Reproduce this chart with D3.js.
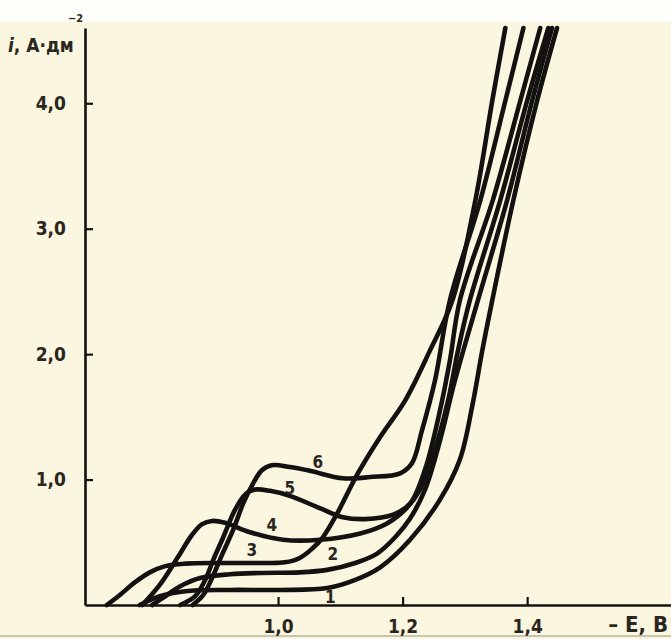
<!DOCTYPE html>
<html>
<head>
<meta charset="utf-8">
<script src="https://cdn.jsdelivr.net/npm/d3@7"></script>
<style>
  body { margin: 0; background: #fbf6df; }
  svg { display: block; }
</style>
</head>
<body>
<div id="chart"></div>
<script>
// polarisation curves: potential -E (V) vs current density i (A/dm2)
var curve1E = [0.778, 0.810, 0.851, 0.923, 1.003, 1.079, 1.124, 1.164, 1.212, 1.260, 1.292, 1.312, 1.328, 1.344, 1.378, 1.416, 1.448];
var curve1I = [0.00, 0.07, 0.11, 0.12, 0.12, 0.135, 0.20, 0.30, 0.52, 0.84, 1.16, 1.59, 2.03, 2.43, 3.23, 4.02, 4.60];

var curve2E = [0.798, 0.819, 0.843, 0.875, 0.923, 0.971, 1.035, 1.079, 1.124, 1.159, 1.188, 1.212, 1.236, 1.260, 1.284, 1.321, 1.368, 1.408, 1.440];
var curve2I = [0.00, 0.07, 0.15, 0.215, 0.245, 0.255, 0.26, 0.28, 0.335, 0.41, 0.54, 0.69, 0.92, 1.31, 1.79, 2.43, 3.23, 4.02, 4.60];

var curve3E = [0.725, 0.746, 0.770, 0.794, 0.819, 0.851, 0.907, 0.971, 1.011, 1.035, 1.055, 1.072, 1.095, 1.127, 1.164, 1.204, 1.244, 1.280, 1.317, 1.344, 1.365];
var curve3I = [0.00, 0.08, 0.18, 0.26, 0.31, 0.33, 0.335, 0.335, 0.34, 0.375, 0.45, 0.54, 0.73, 1.04, 1.34, 1.63, 2.03, 2.43, 3.23, 4.02, 4.60];

var curve4E = [0.782, 0.810, 0.839, 0.862, 0.878, 0.894, 0.915, 0.955, 1.008, 1.068, 1.132, 1.175, 1.204, 1.228, 1.252, 1.273, 1.289, 1.308, 1.357, 1.400, 1.434];
var curve4I = [0.00, 0.16, 0.38, 0.56, 0.645, 0.67, 0.655, 0.58, 0.52, 0.52, 0.57, 0.65, 0.76, 0.92, 1.24, 1.63, 2.03, 2.43, 3.23, 4.02, 4.60];

var curve5E = [0.843, 0.867, 0.883, 0.896, 0.912, 0.931, 0.947, 0.963, 0.987, 1.019, 1.068, 1.104, 1.140, 1.185, 1.212, 1.236, 1.260, 1.276, 1.292, 1.345, 1.389, 1.421];
var curve5I = [0.00, 0.07, 0.20, 0.36, 0.54, 0.76, 0.88, 0.92, 0.91, 0.87, 0.77, 0.70, 0.685, 0.72, 0.81, 1.08, 1.55, 1.95, 2.43, 3.23, 4.02, 4.60];

var curve6E = [0.863, 0.880, 0.894, 0.910, 0.928, 0.944, 0.960, 0.974, 0.990, 1.019, 1.051, 1.104, 1.148, 1.196, 1.215, 1.231, 1.252, 1.276, 1.325, 1.365, 1.394];
var curve6I = [0.00, 0.08, 0.215, 0.40, 0.60, 0.81, 0.97, 1.075, 1.115, 1.10, 1.07, 1.01, 1.02, 1.05, 1.13, 1.39, 1.79, 2.43, 3.23, 4.02, 4.60];

var curveNames = ["1", "2", "3", "4", "5", "6"];
var labelE = [1.084, 1.088, 0.958, 0.990, 1.019, 1.064];
var labelI = [0.06, 0.41, 0.44, 0.64, 0.93, 1.14];

var xTicks = [1.0, 1.2, 1.4];
var yTicks = [1, 2, 3, 4];

var curves = [[curve1E, curve1I], [curve2E, curve2I], [curve3E, curve3I],
              [curve4E, curve4I], [curve5E, curve5I], [curve6E, curve6I]];

var width = 671, height = 639;
var font = "'DejaVu Sans Condensed', 'DejaVu Sans', sans-serif";
var ink = "#141210";

var svg = d3.select("#chart")
    .append("svg")
    .attr("width", width)
    .attr("height", height);

// paper
svg.append("rect").attr("width", width).attr("height", height).attr("fill", "#fbf6df");
svg.append("rect").attr("width", width).attr("height", 22).attr("fill", "#fefefb");
svg.append("line")
    .attr("x1", 0).attr("x2", width)
    .attr("y1", 636).attr("y2", 636)
    .attr("stroke", "#b9b4a4").attr("stroke-width", 1.5);

// scales
var x = d3.scaleLinear().domain([0.69, 1.631]).range([85, 671]);
var y = d3.scaleLinear().domain([0, 4.6]).range([605, 28]);

var comma = function (d) { return d3.format(".1f")(d).replace(".", ","); };

// x axis, ticks pointing up
var xAxis = svg.append("g")
    .attr("transform", "translate(0," + y(0) + ")")
    .call(d3.axisBottom(x).tickValues(xTicks).tickFormat(comma)
        .tickSizeInner(-8).tickSizeOuter(0).tickPadding(15));

// y axis, ticks pointing right
var yAxis = svg.append("g")
    .attr("transform", "translate(" + x(0.69) + ",0)")
    .call(d3.axisLeft(y).tickValues(yTicks).tickFormat(comma)
        .tickSizeInner(-8).tickSizeOuter(0).tickPadding(19));

[xAxis, yAxis].forEach(function (g) {
    g.select(".domain").attr("stroke", ink).attr("stroke-width", 2.6);
    g.selectAll(".tick line").attr("stroke", ink).attr("stroke-width", 2.2);
    g.selectAll(".tick text")
        .attr("fill", "#2a2620")
        .style("font-family", font)
        .style("font-weight", "bold")
        .style("font-size", "19px");
});

// curves
var line = d3.line()
    .x(function (d) { return x(d[0]); })
    .y(function (d) { return y(d[1]); })
    .curve(d3.curveCatmullRom.alpha(0.5));

curves.forEach(function (c) {
    var pts = c[0].map(function (e, k) { return [e, c[1][k]]; });
    svg.append("path")
        .datum(pts)
        .attr("fill", "none")
        .attr("stroke", ink)
        .attr("stroke-width", 4.6)
        .attr("stroke-linecap", "round")
        .attr("stroke-linejoin", "round")
        .attr("d", line);
});

// curve numbers
svg.selectAll(".num")
    .data(curveNames)
    .enter()
    .append("text")
    .attr("class", "num")
    .attr("x", function (d, k) { return x(labelE[k]); })
    .attr("y", function (d, k) { return y(labelI[k]); })
    .attr("text-anchor", "middle")
    .attr("dominant-baseline", "central")
    .attr("fill", "#2a2620")
    .style("font-family", font)
    .style("font-weight", "bold")
    .style("font-size", "17px")
    .text(function (d) { return d; });

// axis titles
var yTitle = svg.append("text")
    .attr("x", 8)
    .attr("y", 52)
    .attr("fill", "#2a2620")
    .style("font-family", font)
    .style("font-weight", "bold")
    .style("font-size", "19px");
yTitle.append("tspan").style("font-style", "italic").text("i");
yTitle.append("tspan").text(", A·дм");

svg.append("text")
    .attr("x", 68)
    .attr("y", 22)
    .attr("fill", "#2a2620")
    .style("font-family", font)
    .style("font-weight", "bold")
    .style("font-size", "11px")
    .text("−2");

svg.append("text")
    .attr("x", 668)
    .attr("y", 632)
    .attr("text-anchor", "end")
    .attr("fill", "#2a2620")
    .style("font-family", font)
    .style("font-weight", "bold")
    .style("font-size", "22px")
    .text("– E, В");
</script>
</body>
</html>
